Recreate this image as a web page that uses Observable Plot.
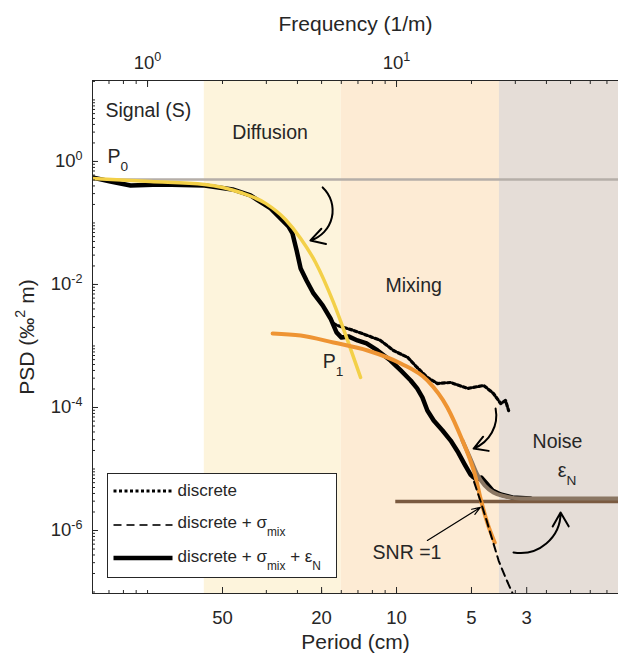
<!DOCTYPE html>
<html><head><meta charset="utf-8">
<script src="https://cdn.jsdelivr.net/npm/d3@7"></script>
<script src="https://cdn.jsdelivr.net/npm/@observablehq/plot@0.6"></script>
<style>
html,body{margin:0;padding:0;background:#fff;}
#chart{width:618px;height:654px;overflow:hidden;}
</style></head>
<body><div id="chart"></div>
<script>
// ---------------- data ----------------
const xDomain = [0.601, 77.9];     // frequency (1/m)
const yDomain = [9.46e-8, 20.7];   // PSD (‰² m)

const regionNames = ["Signal", "Diffusion", "Mixing", "Noise"];
const regionFrom  = [0.601, 1.69, 6.0, 25.9];
const regionTo    = [1.69, 6.0, 25.9, 77.9];

const P0 = 0.51;          // plateau level
const epsN = 2.95e-6;     // noise level
const noiseStartF = 9.93;

// discrete + sigma_mix + eps_N (measured, solid black)
const solidF = [0.601,0.71,0.855,1.127,1.694,2.195,2.59,3.12,3.68,3.82,3.97,4.12,4.35,4.64,5.05,5.43,5.74,6.01,6.41,6.97,7.58,8.39,9.46,10.4,11.4,12.1,12.7,13.3,14.1,15.3,16.5,17.7,18.8,19.8,20.9,21.9,23.0,24.3,26.2,29.2,34.5];
const solidP = [0.549,0.473,0.407,0.423,0.407,0.351,0.28,0.172,0.0877,0.0675,0.0357,0.0182,0.0116,0.00714,0.00456,0.0028,0.00166,0.00137,0.00143,0.00123,0.0011,0.000845,0.00058,0.0004,0.000275,0.000204,0.000146,8.93e-5,6.15e-5,4.23e-5,2.9e-5,1.85e-5,1.18e-5,8.15e-6,6.75e-6,7.28e-6,5.81e-6,4.47e-6,3.85e-6,3.44e-6,3.31e-6];

// discrete (dotted)
const dottedF = [5.58,5.79,6.72,7.65,8.62,9.72,11.1,12.1,13.3,14.6,16.5,19.3,22.4,24.5,26.2,27.4,28.2];
const dottedP = [0.00232,0.00215,0.00179,0.00148,0.00123,0.000845,0.00065,0.000447,0.000308,0.000245,0.000255,0.000204,0.000228,0.000169,0.000116,0.00013,8.9e-5];

// discrete + sigma_mix (dashed)
const dashedF = [17.3,18.9,20.4,21.7,23.0,24.3,25.7,27.4,29.5];
const dashedP = [2.24e-5,1.14e-5,6.5e-6,3.07e-6,1.46e-6,6.9e-7,3.25e-7,1.72e-7,8.8e-8];

// diffusion model (yellow)
const yellowF = [0.601,1.028,1.694,2.36,2.98,3.58,4.12,4.73,5.58,6.36,7.17];
const yellowP = [0.53,0.473,0.423,0.313,0.208,0.114,0.056,0.0228,0.0051,0.00123,0.000308];

// mixing model (orange)
const orangeF = [3.18,4.12,5.58,7.65,10.4,13.3,16.0,18.4,19.8,20.8,21.7,23.2,24.8];
const orangeP = [0.0016,0.00148,0.00114,0.000845,0.000519,0.000275,1.0e-4,2.9e-5,1.37e-5,7.28e-6,3.44e-6,1.3e-6,6.4e-7];

// mixing model + noise (grey-brown)
const totalF = [18.4,19.8,21.1,22.6,24.5,27.4,31.5,77.9];
const totalP = [2.9e-5,1.48e-5,8.15e-6,5.4e-6,4.15e-6,3.57e-6,3.31e-6,3.31e-6];

// tick values and labels
const topTickValues = [1, 10];
const topTickLabels = ["10^{0}", "10^{1}"];
const periodTickLabels = ["50", "20", "10", "5", "3"];   // cm
const periodTickCm = [50, 20, 10, 5, 3];
const yTickValues = [1, 1e-2, 1e-4, 1e-6];
const yTickLabels = ["10^{0}", "10^{-2}", "10^{-4}", "10^{-6}"];

// annotations (text placed at data coordinates)
const annotText = ["Signal (S)", "Diffusion", "Mixing", "Noise", "ε_{N}", "P_{0}", "P_{1}", "SNR =1"];
const annotF = [0.678, 2.19, 9.03, 35.2, 44.4, 0.691, 5.05, 8.01];
const annotP = [6.75, 2.96, 0.00964, 2.8e-5, 9.46e-6, 1.21, 5.6e-4, 4.39e-7];

// arrows (start -> end, data coordinates)
const arrowF1 = [5.05, 25.0, 29.5, 13.3];
const arrowP1 = [0.378, 9.6e-5, 4.4e-7, 6.9e-7];
const arrowF2 = [4.51, 20.4, 45.6, 21.7];
const arrowP2 = [0.052, 2.15e-5, 1.96e-6, 2.37e-6];

const legendLabels = ["discrete", "discrete + σ_{mix}", "discrete + σ_{mix} + ε_{N}"];

// ---------------- build ----------------
const toRows = (F, P) => F.map((f, i) => ({f, p: P[i]}));
const bands = regionNames.map((n, i) => ({name: n, from: regionFrom[i], to: regionTo[i]}));
const bandColor = {Signal: "#ffffff", Diffusion: "#fdf4dc", Mixing: "#fdebd4", Noise: "#e5ddd7"};
const periodTickF = periodTickCm.map(c => 100 / c);
const periodMap = new Map(periodTickF.map((f, i) => [f, periodTickLabels[i]]));
const topMap = new Map(topTickValues.map((v, i) => [v, topTickLabels[i]]));
const yMap = new Map(yTickValues.map((v, i) => [v, yTickLabels[i]]));
const annots = annotText.map((t, i) => ({t, f: annotF[i], p: annotP[i]}));
const arrows = arrowF1.map((f, i) => ({f1: f, p1: arrowP1[i], f2: arrowF2[i], p2: arrowP2[i]}));

const minorX = [];
for (let e = -1; e <= 1; e++) for (let k = 1; k < 10; k++) { const v = k * 10 ** e; if (v >= xDomain[0] && v <= xDomain[1]) minorX.push(v); }
const minorY = [];
for (let e = -8; e <= 1; e++) for (let k = 1; k < 10; k++) { const v = k * 10 ** e; if (v >= yDomain[0] && v <= yDomain[1]) minorY.push(v); }

const ink = "#262626";
const L = {x: "f", y: "p", clip: true};
const blank = () => "";
// inward ticks (drawn outward, then shifted inward by their own length)
const ticksBottom = (vals, n) => Plot.axisX({anchor: "bottom", ticks: vals, tickSize: n, dy: -n, tickFormat: blank, stroke: ink, label: null});
const ticksTop = (vals, n) => Plot.axisX({anchor: "top", ticks: vals, tickSize: n, dy: n, tickFormat: blank, stroke: ink, label: null});
const ticksLeft = (vals, n) => Plot.axisY({anchor: "left", ticks: vals, tickSize: n, dx: n, tickFormat: blank, stroke: ink, label: null});

const plot = Plot.plot({
  width: 618, height: 654,
  marginLeft: 92, marginRight: 0, marginTop: 80, marginBottom: 61,
  x: {type: "log", domain: xDomain},
  y: {type: "log", domain: yDomain},
  color: {type: "identity"},
  style: {fontFamily: "'Liberation Sans', Arial, Helvetica, sans-serif", fontSize: "18.5px", color: ink, background: "#fff", overflow: "visible"},
  marks: [
    Plot.rect(bands, {x1: "from", x2: "to", y1: () => yDomain[0], y2: () => yDomain[1], fill: d => bandColor[d.name]}),
    Plot.ruleY([P0], {stroke: "#b5aea8", strokeWidth: 2.5}),
    Plot.line(toRows(solidF, solidP), {...L, stroke: "#000", strokeWidth: 4.5, strokeLinejoin: "round"}),
    Plot.line(toRows(dottedF, dottedP), {...L, stroke: "#000", strokeWidth: 3.2, strokeDasharray: "3 2.5"}),
    Plot.line(toRows(yellowF, yellowP), {...L, stroke: "#f3d048", strokeWidth: 3.5, curve: "monotone-x"}),
    Plot.ruleY([epsN], {x1: noiseStartF, x2: xDomain[1], stroke: "#7a5a40", strokeWidth: 3.5}),
    Plot.line(toRows(totalF, totalP), {...L, stroke: "#8a7663", strokeWidth: 4, curve: "monotone-x"}),
    Plot.line(toRows(orangeF, orangeP), {...L, stroke: "#ee9433", strokeWidth: 4, curve: "monotone-x"}),
    Plot.line(toRows(dashedF, dashedP), {...L, stroke: "#000", strokeWidth: 2, strokeDasharray: "8 5"}),
    // arrows
    Plot.arrow([arrows[0]], {x1: "f1", y1: "p1", x2: "f2", y2: "p2", bend: 60, stroke: "#000", strokeWidth: 2, headLength: 12}),
    Plot.arrow([arrows[1]], {x1: "f1", y1: "p1", x2: "f2", y2: "p2", bend: 40, stroke: "#000", strokeWidth: 2, headLength: 12}),
    Plot.arrow([arrows[2]], {x1: "f1", y1: "p1", x2: "f2", y2: "p2", bend: -50, stroke: "#000", strokeWidth: 2, headLength: 12}),
    Plot.arrow([arrows[3]], {x1: "f1", y1: "p1", x2: "f2", y2: "p2", stroke: "#000", strokeWidth: 1.2, headLength: 11, headAngle: 40}),
    // annotations
    Plot.text(annots, {x: "f", y: "p", text: "t", textAnchor: "start", lineAnchor: "middle", fontSize: 19.5, fill: ink}),
    // frame lines
    Plot.ruleX([xDomain[0]], {stroke: ink, strokeWidth: 1}),
    Plot.ruleY([yDomain[0]], {stroke: ink, strokeWidth: 1}),
    Plot.ruleY([yDomain[1]], {stroke: ink, strokeWidth: 1}),
    // inward ticks
    ticksTop(minorX, 3), ticksBottom(minorX, 3), ticksLeft(minorY, 3),
    ticksTop(topTickValues, 6), ticksBottom(periodTickF, 6), ticksLeft(yTickValues, 6),
    // tick labels
    Plot.axisX({anchor: "top", ticks: topTickValues, tickSize: 0, tickPadding: 12, tickFormat: d => topMap.get(d), fill: ink, label: null, fontSize: 18.5}),
    Plot.axisX({anchor: "bottom", ticks: periodTickF, tickSize: 0, tickPadding: 17, tickFormat: d => periodMap.get(d), fill: ink, label: null, fontSize: 18.5}),
    Plot.axisY({anchor: "left", ticks: yTickValues, tickSize: 0, tickPadding: 10, tickFormat: d => yMap.get(d), fill: ink, label: null, fontSize: 18.5}),
    // axis titles
    Plot.text(["Frequency (1/m)"], {frameAnchor: "top", dy: -56, text: d => d, textAnchor: "middle", lineAnchor: "middle", fontSize: 21, fill: ink}),
    Plot.text(["Period (cm)"], {frameAnchor: "bottom", dy: 49, text: d => d, textAnchor: "middle", lineAnchor: "middle", fontSize: 21, fill: ink}),
    Plot.text(["PSD (‰^{2} m)"], {frameAnchor: "left", dx: -65, rotate: -90, text: d => d, textAnchor: "middle", lineAnchor: "middle", fontSize: 21, fill: ink})
  ]
});

document.getElementById("chart").appendChild(plot);

// legend (inside the frame, lower left)
const svg = d3.select(plot);
const lg = svg.append("g").attr("transform", "translate(107.5,473.5)");
lg.append("rect").attr("width", 229).attr("height", 104).attr("fill", "#fff").attr("stroke", ink).attr("stroke-width", 1);
const sampleStyles = [
  {w: 3.2, dash: "3 2.5", c: "#000"},
  {w: 2, dash: "8 5", c: "#333"},
  {w: 4.5, dash: null, c: "#000"}
];
const rowLineY = [17.5, 51.5, 84.5];
const rowTextY = [22.5, 54.5, 88.5];
legendLabels.forEach((lab, i) => {
  const s = sampleStyles[i];
  const ln = lg.append("line").attr("x1", 6).attr("x2", 65).attr("y1", rowLineY[i]).attr("y2", rowLineY[i])
    .attr("stroke", s.c).attr("stroke-width", s.w);
  if (s.dash) ln.attr("stroke-dasharray", s.dash);
  lg.append("text").attr("x", 70).attr("y", rowTextY[i]).attr("fill", ink)
    .attr("text-anchor", "start").style("font-size", "17px").text(lab);
});

// rich text: ^{..} superscript, _{..} subscript
function richify(root) {
  root.querySelectorAll("text").forEach(t => {
    const s = t.textContent;
    if (!/[\^_]\{/.test(s)) return;
    const fs = parseFloat(getComputedStyle(t).fontSize) || 18;
    while (t.firstChild) t.removeChild(t.firstChild);
    const re = /([\^_])\{([^}]*)\}/g;
    let last = 0, m, cur = 0;
    const add = (txt, kind) => {
      if (!txt) return;
      const ts = document.createElementNS("http://www.w3.org/2000/svg", "tspan");
      let target = 0;
      if (kind === "^") { target = -0.42 * fs; ts.setAttribute("font-size", (0.68 * fs) + "px"); }
      if (kind === "_") { target = 0.45 * fs; ts.setAttribute("font-size", (0.7 * fs) + "px"); }
      const d = target - cur;
      if (Math.abs(d) > 1e-6) ts.setAttribute("dy", d + "px");
      cur = target;
      ts.textContent = txt;
      t.appendChild(ts);
    };
    while ((m = re.exec(s))) {
      add(s.slice(last, m.index), null);
      add(m[2], m[1]);
      last = re.lastIndex;
    }
    add(s.slice(last), null);
  });
}
richify(plot);
</script>
</body></html>
